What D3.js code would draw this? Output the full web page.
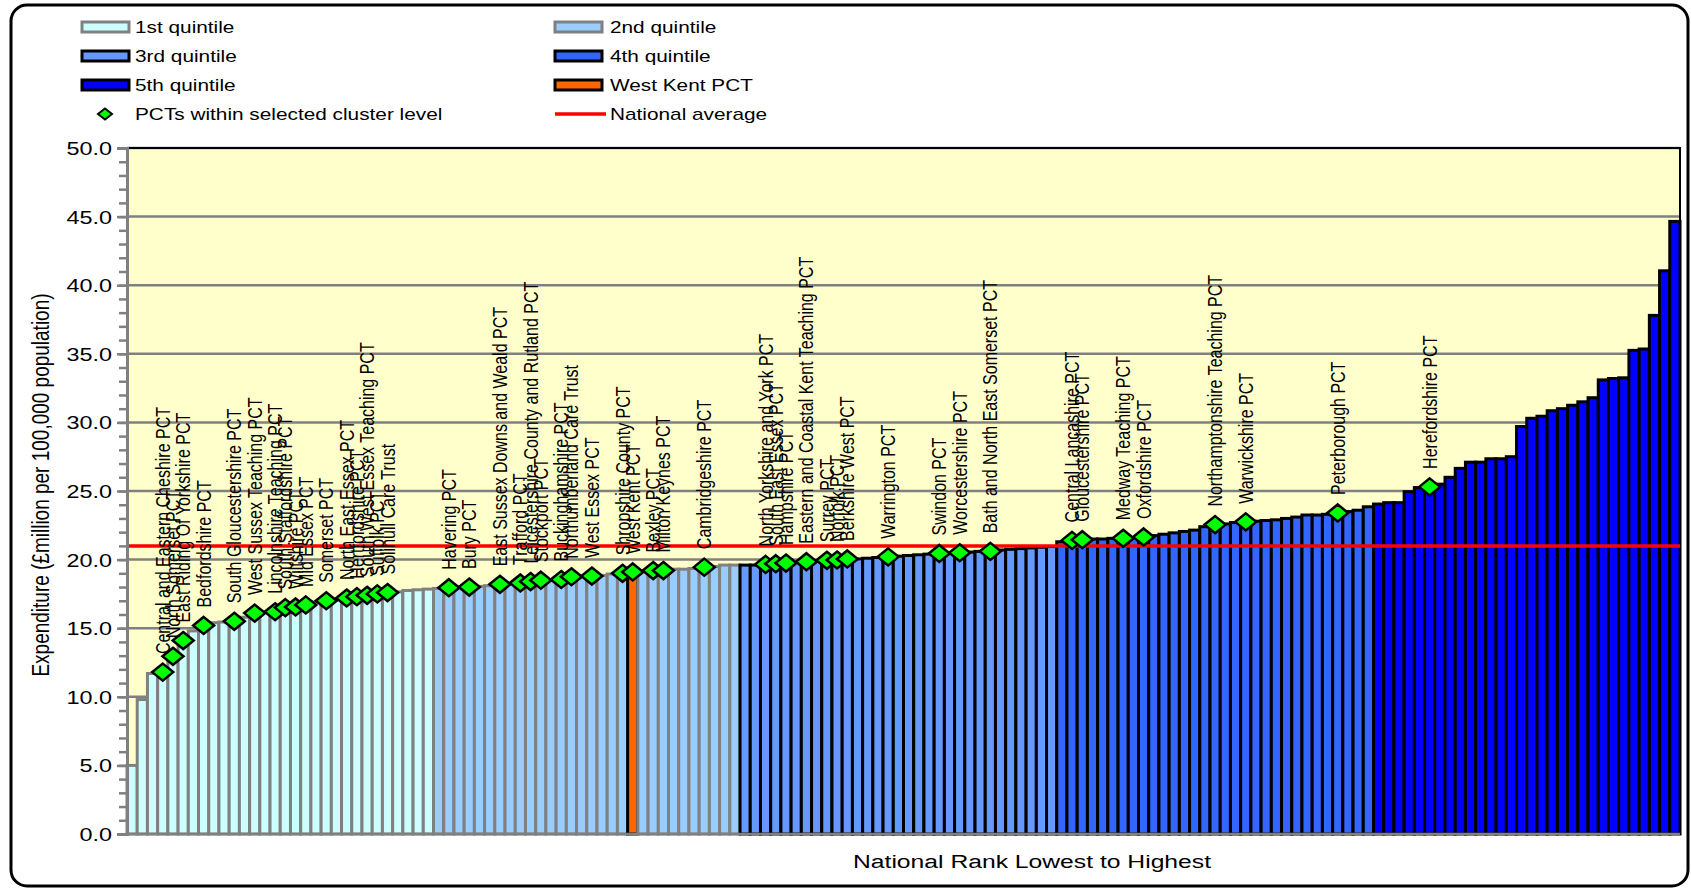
<!DOCTYPE html>
<html lang="en">
<head>
<meta charset="UTF-8">
<title>Expenditure per 100,000 population by PCT</title>
<script src="https://d3js.org/d3.v7.min.js"></script>
<style>
  body { margin: 0; background: #fff; }
  svg text { font-family: Arial, "Liberation Sans", sans-serif; fill: #000; }
</style>
</head>
<body>
<div id="chart"></div>
<script>
// expenditure (£million per 100,000 population), national rank lowest to highest
const values = [
  5.0, 9.8, 11.7, 11.8, 12.95, 14.1, 14.8, 15.2, 15.4, 15.45,
  15.5, 15.8, 16.1, 16.15, 16.2, 16.5, 16.55, 16.7, 16.9, 17.0,
  17.1, 17.2, 17.3, 17.4, 17.5, 17.6, 17.65, 17.75, 17.8, 17.85,
  17.9, 17.95, 18.0, 18.0, 18.05, 18.1, 18.2, 18.25, 18.3, 18.4,
  18.5, 18.5, 18.55, 18.75, 18.75, 18.8, 18.85, 18.95, 19.0, 19.1,
  19.15, 19.2, 19.2, 19.3, 19.3, 19.35, 19.45, 19.5, 19.6, 19.6,
  19.6, 19.6, 19.65, 19.7, 19.75, 19.8, 19.85, 19.9, 19.95, 19.97,
  20.05, 20.05, 20.1, 20.15, 20.2, 20.25, 20.3, 20.35, 20.4, 20.45,
  20.5, 20.5, 20.55, 20.6, 20.6, 20.7, 20.75, 20.8, 20.85, 20.9,
  20.95, 21.3, 21.4, 21.45, 21.5, 21.5, 21.55, 21.55, 21.6, 21.65,
  21.75, 21.85, 21.95, 22.05, 22.15, 22.4, 22.55, 22.6, 22.7, 22.75,
  22.8, 22.85, 22.9, 23.0, 23.1, 23.25, 23.25, 23.3, 23.4, 23.5,
  23.6, 23.85, 24.05, 24.15, 24.15, 24.95, 25.25, 25.3, 25.5, 26.0,
  26.65, 27.1, 27.1, 27.35, 27.35, 27.5, 29.7, 30.3, 30.45, 30.85,
  31.0, 31.25, 31.5, 31.8, 33.1, 33.2, 33.25, 35.25, 35.35, 37.8,
  41.05, 44.65
];

// first rank of each quintile
const quintileStarts = [0, 30, 60, 91, 122];
const quintileNames = ["1st quintile", "2nd quintile", "3rd quintile", "4th quintile", "5th quintile"];
const quintileFills = ["#CCFFFF", "#99CCFF", "#6699FF", "#3366FF", "#0000FF"];
const quintileStrokes = ["#808080", "#808080", "#000000", "#000000", "#000000"];

const westKentRank = 49;
const nationalAverage = 21.0;

// PCTs within selected cluster level
const clusterRanks = [
  3, 4, 5, 7, 10, 12, 14, 15, 16, 17, 19, 21, 22, 23, 24, 25,
  31, 33, 36, 38, 39, 40, 42, 43, 45, 48, 49, 51, 52, 56,
  62, 63, 64, 66, 68, 69, 70, 74, 79, 81, 84,
  92, 93, 97, 99, 106, 109, 118, 127
];
const clusterNames = [
  "Central and Eastern Cheshire PCT", "North Somerset PCT", "East Riding Of Yorkshire PCT",
  "Bedfordshire PCT", "South Gloucestershire PCT", "West Sussex Teaching PCT",
  "Lincolnshire Teaching PCT", "South Staffordshire PCT", "Wiltshire PCT", "Mid Essex PCT",
  "Somerset PCT", "North East Essex PCT", "Hertfordshire PCT", "South West Essex Teaching PCT",
  "Suffolk PCT", "Solihull Care Trust",
  "Havering PCT", "Bury PCT", "East Sussex Downs and Weald PCT", "Trafford PCT",
  "Leicestershire County and Rutland PCT", "Stockport PCT", "Buckinghamshire PCT",
  "Northumberland Care Trust", "West Essex PCT", "Shropshire County PCT", "West Kent PCT",
  "Bexley PCT", "Milton Keynes PCT", "Cambridgeshire PCT",
  "North Yorkshire and York PCT", "South East Essex PCT", "Hampshire PCT",
  "Eastern and Coastal Kent Teaching PCT", "Surrey PCT", "Norfolk PCT", "Berkshire West PCT",
  "Warrington PCT", "Swindon PCT", "Worcestershire PCT", "Bath and North East Somerset PCT",
  "Central Lancashire PCT", "Gloucestershire PCT", "Medway Teaching PCT", "Oxfordshire PCT",
  "Northamptonshire Teaching PCT", "Warwickshire PCT", "Peterborough PCT", "Herefordshire PCT"
];

const yTicks = d3.range(0, 50.01, 5);
const yMinorTicks = d3.range(0, 50.01, 1);

const W = 1691, H = 890;
const SX = 1.3; // the original text is drawn wide
const plot = { left: 127, right: 1680, top: 148, bottom: 834 };

const svg = d3.select("#chart").append("svg")
    .attr("width", W)
    .attr("height", H);

const x = d3.scaleBand()
    .domain(d3.range(values.length))
    .range([plot.left, plot.right])
    .padding(0);

const y = d3.scaleLinear()
    .domain([0, 50])
    .range([plot.bottom, plot.top]);

function quintileOf(i) {
    let q = 0;
    quintileStarts.forEach((s, k) => { if (i >= s) q = k; });
    return q;
}

// outer frame
svg.append("rect")
    .attr("x", 11).attr("y", 5)
    .attr("width", 1677).attr("height", 881)
    .attr("rx", 16)
    .attr("fill", "#fff")
    .attr("stroke", "#000")
    .attr("stroke-width", 3);

// plot background
svg.append("rect")
    .attr("x", plot.left).attr("y", plot.top)
    .attr("width", plot.right - plot.left)
    .attr("height", plot.bottom - plot.top)
    .attr("fill", "#FFFFCC");

// gridlines
svg.append("g")
    .selectAll("line")
    .data(yTicks.filter(d => d > 0))
    .join("line")
    .attr("x1", plot.left).attr("x2", plot.right)
    .attr("y1", d => y(d)).attr("y2", d => y(d))
    .attr("stroke", "#808080")
    .attr("stroke-width", 2.5);

// bars
svg.append("g")
    .selectAll("rect")
    .data(values)
    .join("rect")
    .attr("x", (d, i) => x(i))
    .attr("y", d => y(d))
    .attr("width", x.bandwidth())
    .attr("height", d => y(0) - y(d))
    .attr("fill", (d, i) => i === westKentRank ? "#FF6600" : quintileFills[quintileOf(i)])
    .attr("stroke", (d, i) => i === westKentRank ? "#000000" : quintileStrokes[quintileOf(i)])
    .attr("stroke-width", 3);

// plot border (top / right)
svg.append("path")
    .attr("d", `M${plot.left},${plot.top}H${plot.right}V${plot.bottom}`)
    .attr("fill", "none")
    .attr("stroke", "#000")
    .attr("stroke-width", 2);

// national average
svg.append("line")
    .attr("x1", plot.left).attr("x2", plot.right)
    .attr("y1", y(nationalAverage)).attr("y2", y(nationalAverage))
    .attr("stroke", "#FF0000")
    .attr("stroke-width", 3.5);

// y axis, minor then major ticks
const minorAxis = svg.append("g")
    .attr("transform", `translate(${plot.left},0)`)
    .call(d3.axisLeft(y).tickValues(yMinorTicks).tickSize(8).tickFormat(""));
minorAxis.selectAll("line").attr("stroke", "#808080").attr("stroke-width", 2.5);
minorAxis.select(".domain").remove();

const yAxis = svg.append("g")
    .attr("transform", `translate(${plot.left},0)`)
    .call(d3.axisLeft(y).tickValues(yTicks).tickSize(10).tickFormat(d3.format(".1f")));
yAxis.select(".domain").attr("stroke", "#808080").attr("stroke-width", 3);
yAxis.selectAll("line").attr("stroke", "#808080").attr("stroke-width", 2.5);
yAxis.selectAll("text")
    .attr("x", -15 / SX)
    .attr("dy", "0.36em")
    .attr("transform", `scale(${SX},1)`)
    .style("font-size", "18px")
    .style("fill", "#000");

// x axis line
svg.append("line")
    .attr("x1", plot.left).attr("x2", plot.right)
    .attr("y1", plot.bottom).attr("y2", plot.bottom)
    .attr("stroke", "#808080")
    .attr("stroke-width", 2.5);

// cluster markers
const diamond = "M0,-8.5L10.5,0L0,8.5L-10.5,0Z";
const cluster = clusterRanks.map((r, k) => ({ rank: r, name: clusterNames[k], value: values[r] }));

svg.append("g")
    .selectAll("path")
    .data(cluster)
    .join("path")
    .attr("d", diamond)
    .attr("transform", d => `translate(${x(d.rank) + x.bandwidth() / 2},${y(d.value)})`)
    .attr("fill", "#00FF00")
    .attr("stroke", "#000")
    .attr("stroke-width", 2.5);

svg.append("g")
    .selectAll("text")
    .data(cluster)
    .join("text")
    .attr("transform", d => `translate(${x(d.rank) + x.bandwidth() / 2 + 7},${y(d.value) - 18}) scale(${SX},1) rotate(-90)`)
    .style("font-size", "16px")
    .text(d => d.name);

// axis titles
svg.append("text")
    .attr("transform", `translate(49,485) scale(${SX},1) rotate(-90)`)
    .attr("text-anchor", "middle")
    .style("font-size", "19px")
    .text("Expenditure (£million per 100,000  population)");

svg.append("text")
    .attr("transform", `translate(1032,868) scale(${SX},1)`)
    .attr("text-anchor", "middle")
    .style("font-size", "19px")
    .text("National Rank Lowest to Highest");

// legend
const legendItems = [
    { label: quintileNames[0], fill: quintileFills[0], stroke: quintileStrokes[0], col: 0, row: 0 },
    { label: quintileNames[1], fill: quintileFills[1], stroke: quintileStrokes[1], col: 1, row: 0 },
    { label: quintileNames[2], fill: quintileFills[2], stroke: quintileStrokes[2], col: 0, row: 1 },
    { label: quintileNames[3], fill: quintileFills[3], stroke: quintileStrokes[3], col: 1, row: 1 },
    { label: quintileNames[4], fill: quintileFills[4], stroke: quintileStrokes[4], col: 0, row: 2 },
    { label: "West Kent  PCT", fill: "#FF6600", stroke: "#000000", col: 1, row: 2 },
    { label: "PCTs within selected cluster level", type: "marker", col: 0, row: 3 },
    { label: "National average", type: "line", col: 1, row: 3 }
];
const colX = [82, 555];
const rowY = [27, 56, 85, 114];

const legend = svg.append("g")
    .selectAll("g")
    .data(legendItems)
    .join("g")
    .attr("transform", d => `translate(${colX[d.col]},${rowY[d.row]})`);

legend.filter(d => !d.type).append("rect")
    .attr("x", 0).attr("y", -5)
    .attr("width", 47).attr("height", 10)
    .attr("fill", d => d.fill)
    .attr("stroke", d => d.stroke)
    .attr("stroke-width", 3);

legend.filter(d => d.type === "marker").append("path")
    .attr("d", "M0,-5.5L7,0L0,5.5L-7,0Z")
    .attr("transform", "translate(23,0)")
    .attr("fill", "#00FF00")
    .attr("stroke", "#000")
    .attr("stroke-width", 2);

legend.filter(d => d.type === "line").append("line")
    .attr("x1", 0).attr("x2", 51)
    .attr("y1", 0).attr("y2", 0)
    .attr("stroke", "#FF0000")
    .attr("stroke-width", 3.5);

legend.append("text")
    .attr("transform", d => `translate(${d.col === 0 ? 53 : 55},6) scale(${SX},1)`)
    .style("font-size", "16px")
    .text(d => d.label);
</script>
</body>
</html>
